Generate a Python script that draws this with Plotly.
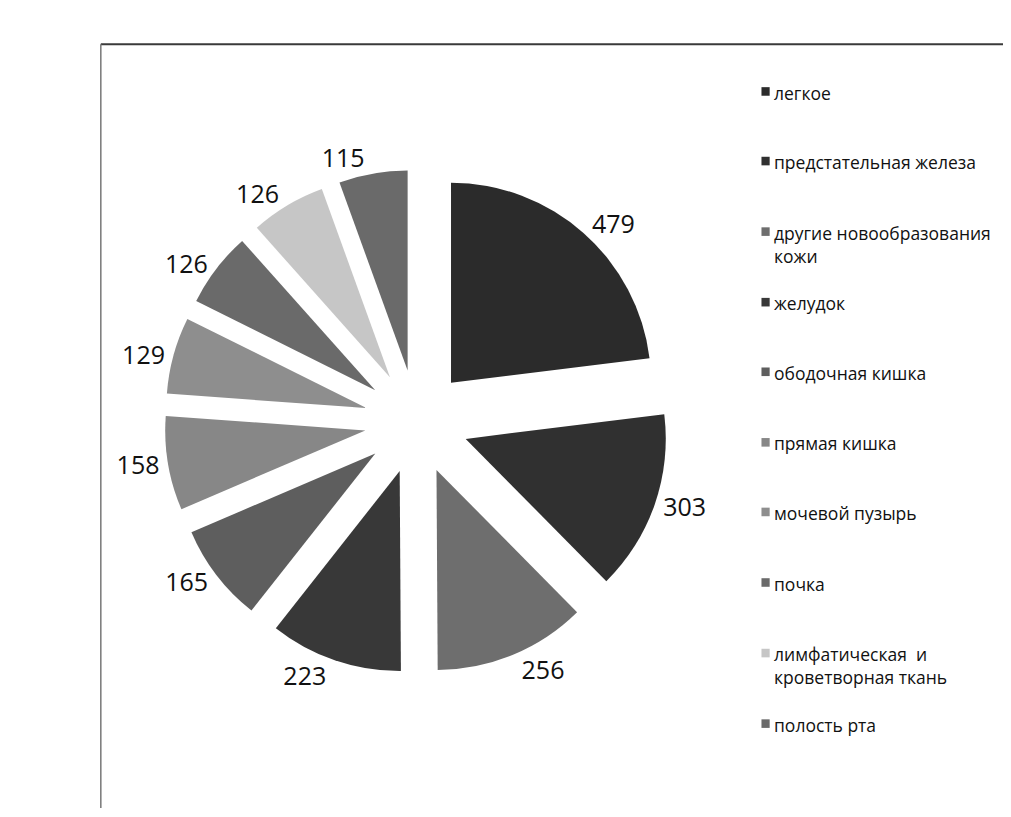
import plotly.graph_objects as go

categories = [
    "легкое",
    "предстательная железа",
    "другие новообразования кожи",
    "желудок",
    "ободочная кишка",
    "прямая кишка",
    "мочевой пузырь",
    "почка",
    "лимфатическая  и кроветворная ткань",
    "полость рта",
]
legend_lines = [
    "легкое",
    "предстательная железа",
    "другие новообразования<br>кожи",
    "желудок",
    "ободочная кишка",
    "прямая кишка",
    "мочевой пузырь",
    "почка",
    "лимфатическая  и<br>кроветворная ткань",
    "полость рта",
]
values = [479, 303, 256, 223, 165, 158, 129, 126, 126, 115]
colors = ["#2b2b2b", "#303030", "#6e6e6e", "#383838", "#5e5e5e",
          "#878787", "#8e8e8e", "#6a6a6a", "#c6c6c6", "#6a6a6a"]

W, H = 1011, 817
OFF = 8  # page body margin
FONT = "Open Sans"

def px(x):
    return (x - OFF) / W

def py(y):
    return 1 - (y - OFF) / H

# pie: centre (357, 420) on screen, slice radius 220, pull 0.26 -> box half-size 277
fig = go.Figure()
fig.add_trace(go.Pie(
    labels=categories,
    values=values,
    sort=False,
    direction="clockwise",
    rotation=0,
    pull=0.26,
    textinfo="value",
    textposition="outside",
    textfont=dict(family=FONT, size=25, color="#111111"),
    marker=dict(colors=colors, line=dict(width=0)),
    domain=dict(x=[px(357 - 277), px(357 + 277)], y=[py(420 + 277), py(420 - 277)]),
    showlegend=False,
    hoverinfo="label+value",
))

legend_x_text = 748
legend_y_first = [73, 146, 220, 294, 367, 441, 514, 588, 662, 736]
shapes = []
annotations = []
for i, (txt, c) in enumerate(zip(legend_lines, colors)):
    y1 = legend_y_first[i]
    shapes.append(dict(type="rect", xref="paper", yref="paper",
                       x0=px(legend_x_text - 12), x1=px(legend_x_text - 3),
                       y0=py(y1 + 5), y1=py(y1 - 4),
                       fillcolor=c, line=dict(width=0)))
    annotations.append(dict(x=px(legend_x_text), y=py(y1 - 13), xref="paper", yref="paper",
                            xanchor="left", yanchor="top", align="left",
                            text=txt, showarrow=False,
                            font=dict(family=FONT, size=17.5, color="#111111")))

# frame
shapes.append(dict(type="line", xref="paper", yref="paper",
                   x0=px(10), x1=1, y0=py(24), y1=py(24),
                   line=dict(color="#3a3a3a", width=2)))
shapes.append(dict(type="line", xref="paper", yref="paper",
                   x0=px(10), x1=px(10), y0=0, y1=py(24),
                   line=dict(color="#777777", width=1.5)))

fig.update_layout(
    width=W, height=H,
    margin=dict(l=0, r=0, t=0, b=0),
    paper_bgcolor="white",
    plot_bgcolor="white",
    shapes=shapes,
    annotations=annotations,
    font=dict(family=FONT),
)

fig.write_html("out.html", config={"displayModeBar": False})
